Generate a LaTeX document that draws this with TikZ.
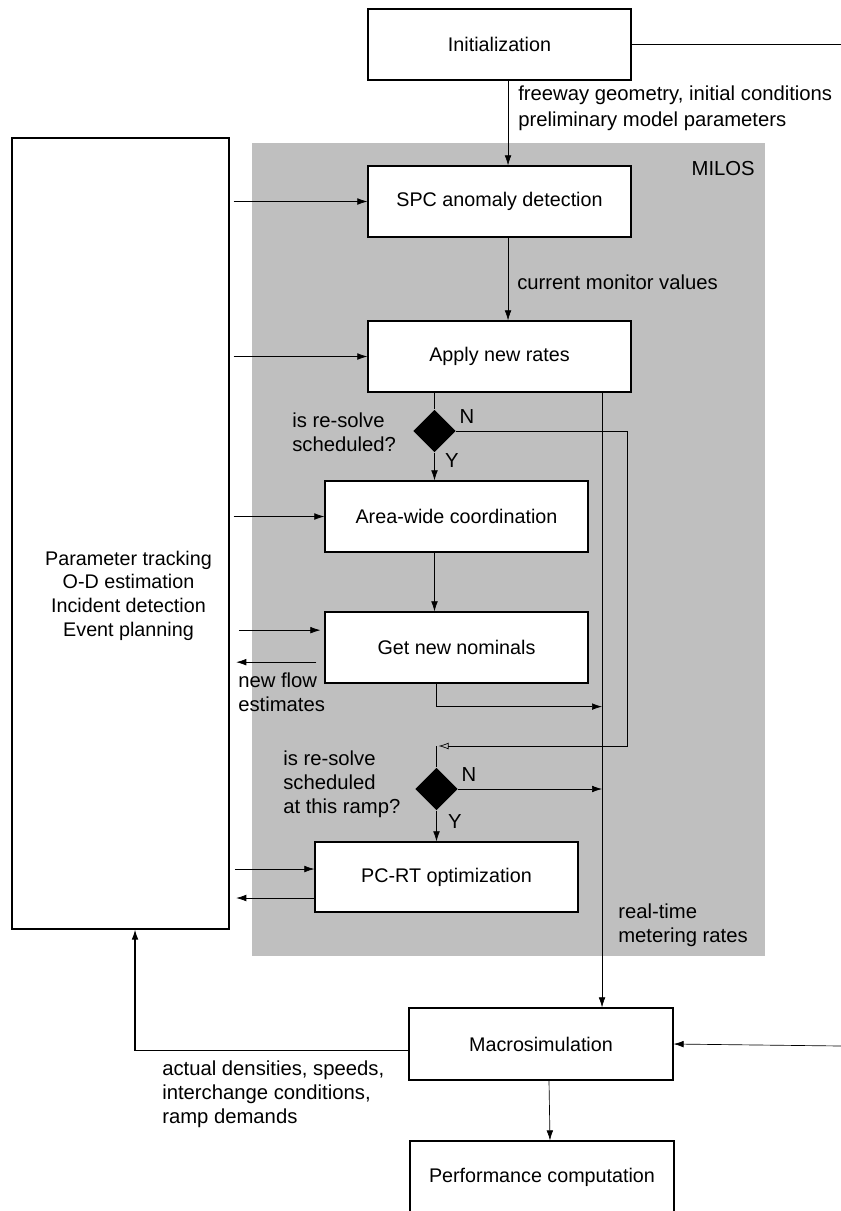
\documentclass[tikz,border=0pt]{standalone}
\usepackage{fontspec}
\setmainfont{Liberation Sans}
\usetikzlibrary{shapes.geometric,arrows.meta}

\begin{document}
\begin{tikzpicture}[x=0.75pt,y=-0.75pt,
  box/.style={draw,line width=0.9pt,fill=white,minimum width=197.25pt,minimum height=53.25pt,inner sep=0pt,font=\fontsize{14.8}{18}\selectfont},
  lbl/.style={inner sep=0pt,align=left,anchor=west,font=\fontsize{15.2}{18}\selectfont},
  dec/.style={diamond,fill=black,inner sep=0pt,minimum width=32pt,minimum height=32pt},
  arr/.style={line width=0.5pt,-{Latex[length=7.5pt,width=5pt]}},
  ln/.style={line width=0.5pt}]
  \clip (0,0) rectangle (841,1211);
  \fill[black!25] (252,143) rectangle (765,956);

  \node[box] (init) at (499.5,44.5) {Initialization};
  \node[box] (spc) at (499.5,201.5) {SPC anomaly detection};
  \node[box] (apply) at (499.5,356.5) {Apply new rates};
  \node[dec] (dec1) at (434.5,431) {};
  \node[box] (area) at (456.5,516.5) {Area-wide coordination};
  \node[box] (nominals) at (456.5,647.5) {Get new nominals};
  \node[dec] (dec2) at (436.5,789) {};
  \node[box,minimum height=52.5pt] (pcrt) at (446.5,877) {PC-RT optimization};
  \node[box,minimum width=198pt,minimum height=54pt] (macro) at (541,1044) {Macrosimulation};
  \node[box,minimum width=198pt,minimum height=54pt] (perf) at (542,1177) {Performance computation};

  \node[draw,line width=0.9pt,minimum width=162.75pt,minimum height=593.25pt] (track) at (120.5,533.5) {};
  \node[inner sep=0pt,align=center,font=\fontsize{14.8}{17.8}\selectfont] (tracktext) at (128.5,595.5)
    {Parameter tracking\\O-D estimation\\Incident detection\\Event planning};

  % labels
  \node[lbl,font=\fontsize{15.2}{19.4}\selectfont] (geom) at (518,108) {freeway geometry, initial conditions\\preliminary model parameters};
  \node[lbl] (monitor) at (517,282) {current monitor values};
  \node[lbl,anchor=east] (milos) at (755,169) {MILOS};
  \node[lbl] (ask1) at (292,432) {is re-solve\\scheduled?};
  \node[lbl] (ask2) at (283,784) {is re-solve\\scheduled\\at this ramp?};
  \node[lbl,anchor=center] (no1) at (467,417) {N};
  \node[lbl,anchor=center] (yes1) at (452,461) {Y};
  \node[lbl,anchor=center] (no2) at (469,775) {N};
  \node[lbl,anchor=center] (yes2) at (455,822) {Y};
  \node[lbl] (flow) at (238,692) {new flow\\estimates};
  \node[lbl] (rates) at (618,925) {real-time\\metering rates};
  \node[lbl] (actual) at (162,1094) {actual densities, speeds,\\interchange conditions,\\ramp demands};

  \coordinate (tedge) at (841,44.5);
  \coordinate (redge) at (841,1046);
  \coordinate (rtop) at ([xshift=76.9pt]apply.south);
  \coordinate (join) at (436.5,746);
  \coordinate (nomin) at ([yshift=13pt]nominals.west);
  \coordinate (nomout) at ([yshift=-11pt]nominals.west);
  \coordinate (pcin) at ([yshift=6pt]pcrt.west);
  \coordinate (pcout) at ([yshift=-15.75pt]pcrt.west);

  % main flow
  \draw[ln] (init.east) -- (tedge);
  \draw[arr] ([xshift=6.4pt]init.south) -- ([xshift=6.4pt]spc.north);
  \draw[arr] ([xshift=6.4pt]spc.south) -- ([xshift=6.4pt]apply.north);
  \draw[ln] (apply.south -| dec1.north) -- (dec1.north);
  \draw[arr] (dec1.south) -- (dec1.south |- area.north);
  \draw[arr] (area.south -| dec1) -- (nominals.north -| dec1);
  \draw[ln,-{Latex[open,length=7.5pt,width=5pt]}] (dec1.east) -- ++(171,0) |- ([xshift=1.5pt]join);
  \draw[ln] (join) -- (dec2.north);
  \draw[arr] (nominals.south -| dec2) |- ([yshift=-17.25pt]nominals.south -| rtop);
  \draw[arr] (dec2.east) -- (dec2.east -| rtop);
  \draw[arr] (dec2.south) -- (dec2.south |- pcrt.north);
  \draw[arr] (rtop) -- (rtop |- macro.north);
  \draw[arr] ([xshift=6pt]macro.south) -- ([xshift=6pt]perf.north);
  \draw[arr] (redge) -- (macro.east);
  \draw[arr,line width=0.9pt] ([yshift=-5pt]macro.west) -| ([xshift=10.9pt]track.south);

  % links to the tracking box
  \draw[arr,shorten <=3pt] (track.east |- spc.west) -- (spc.west);
  \draw[arr,shorten <=3pt] (track.east |- apply.west) -- (apply.west);
  \draw[arr,shorten <=3pt] (track.east |- area.west) -- (area.west);
  \draw[arr,shorten <=7pt,shorten >=3pt] (track.east |- nomin) -- (nomin);
  \draw[arr,shorten <=6pt,shorten >=5pt] (nomout) -- (track.east |- nomout);
  \draw[arr,shorten <=4pt] (track.east |- pcin) -- (pcin);
  \draw[arr,shorten >=5pt] (pcout) -- (track.east |- pcout);
\end{tikzpicture}
\end{document}
